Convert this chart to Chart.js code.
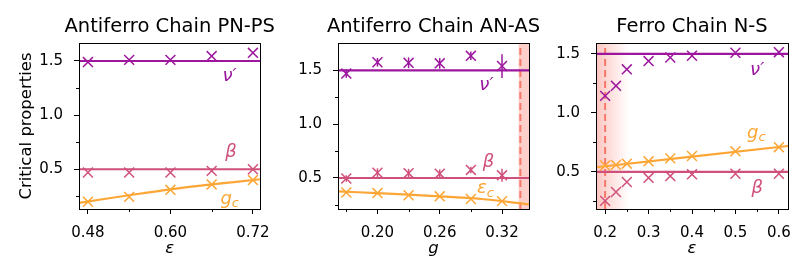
<!DOCTYPE html>
<html>
<head>
<meta charset="utf-8">
<script src="https://cdn.jsdelivr.net/npm/chart.js@4.4.0/dist/chart.umd.min.js"></script>
<style>
    body { margin: 0; background: #fff; width: 811px; height: 280px; position: relative; overflow: hidden; }
    canvas { position: absolute; top: 0; }
</style>
</head>
<body>
<canvas id="panelPN" style="left:0px" width="280" height="280"></canvas>
<canvas id="panelAN" style="left:280px" width="260" height="280"></canvas>
<canvas id="panelNS" style="left:540px" width="271" height="280"></canvas>
<script>
// theory values (horizontal reference lines)
const nuTheory = 1.5;
const betaTheory = 0.5;
const yTicks = [0.5, 1.0, 1.5];
const yMinorTicks = [0.25, 0.75, 1.25];

// Antiferro Chain PN-PS
const pnX = [0.48, 0.54, 0.60, 0.66, 0.72];
const pnNu = [1.49, 1.51, 1.51, 1.545, 1.575];
const pnBeta = [0.47, 0.47, 0.47, 0.485, 0.50];
const pnGc = [0.20, 0.245, 0.31, 0.36, 0.40];
const pnFitX = [0.467, 0.54, 0.60, 0.66, 0.731];
const pnFitGc = [0.19, 0.26, 0.315, 0.36, 0.408];
const pnXTicks = [0.48, 0.60, 0.72];
const pnXMinor = [0.54, 0.66];

// Antiferro Chain AN-AS
const anX = [0.17, 0.20, 0.23, 0.26, 0.29, 0.32];
const anNu = [1.47, 1.575, 1.57, 1.565, 1.635, 1.54];
const anNuErr = [0.04, 0.04, 0.05, 0.05, 0.04, 0.11];
const anBeta = [0.495, 0.55, 0.545, 0.54, 0.575, 0.525];
const anBetaErr = [0.03, 0.04, 0.04, 0.04, 0.03, 0.06];
const anEc = [0.365, 0.36, 0.34, 0.33, 0.305, 0.285];
const anFitX = [0.162, 0.20, 0.26, 0.30, 0.346];
const anFitEc = [0.375, 0.36, 0.33, 0.305, 0.255];
const anCritical = 0.3377;
const anBand = [0.336, 0.346];
const anXTicks = [0.20, 0.26, 0.32];
const anXMinor = [0.17, 0.23, 0.29];

// Ferro Chain N-S
const nsX = [0.2, 0.225, 0.25, 0.3, 0.35, 0.4, 0.5, 0.6];
const nsNu = [1.145, 1.23, 1.37, 1.44, 1.47, 1.485, 1.51, 1.515];
const nsGc = [0.555, 0.56, 0.57, 0.59, 0.615, 0.635, 0.675, 0.71];
const nsBeta = [0.255, 0.33, 0.415, 0.45, 0.465, 0.48, 0.485, 0.485];
const nsFitX = [0.179, 0.621];
const nsFitGc = [0.54, 0.72];
const nsCritical = 0.2;
const nsBand = [0.179, 0.255];
const nsXTicks = [0.2, 0.3, 0.4, 0.5, 0.6];
const nsXMinor = [0.25, 0.35, 0.45, 0.55];

const FONT = "'DejaVu Sans', sans-serif";
const PURPLE = '#9c179e';
const PINK = '#d0507c';
const ORANGE = '#fca636';
const RED = '#f7786b';
const SHADE = 'rgba(248, 110, 95, 0.33)';

function pts(xs, ys) {
    return xs.map((x, i) => ({ x: x, y: ys[i] }));
}

function markers(xs, ys, color) {
    return {
        data: pts(xs, ys),
        showLine: false,
        pointStyle: 'crossRot',
        pointRadius: 7,
        pointBorderWidth: 1.5,
        borderColor: color,
        backgroundColor: color,
    };
}

function fitLine(xs, ys, color) {
    return {
        data: pts(xs, ys),
        showLine: true,
        pointRadius: 0,
        borderWidth: 2.2,
        borderColor: color,
        tension: 0.3,
    };
}

function drawLabel(ctx, label, x, y) {
    const px = x.getPixelForValue(label.x);
    const py = y.getPixelForValue(label.y);
    ctx.fillStyle = label.color;
    ctx.textBaseline = 'middle';
    ctx.font = 'italic 18px ' + FONT;
    const w = ctx.measureText(label.text).width;
    const subW = label.sub ? ctx.measureText(label.sub).width * 0.7 : 0;
    const left = px - (w + subW) / 2;
    ctx.textAlign = 'left';
    ctx.fillText(label.text, left, py);
    if (label.sub) {
        ctx.font = 'italic 13px ' + FONT;
        ctx.fillText(label.sub, left + w, py + 5);
    }
}

function makePanel(canvasId, cfg) {
    const decor = {
        id: 'decor',
        beforeDatasetsDraw(chart) {
            const { ctx, chartArea: a, scales: { x } } = chart;
            if (!cfg.band) {
                return;
            }
            ctx.save();
            const x0 = x.getPixelForValue(cfg.band[0]);
            const x1 = x.getPixelForValue(cfg.band[1]);
            if (cfg.fade) {
                const g = ctx.createLinearGradient(x0, 0, x1, 0);
                g.addColorStop(0, 'rgba(248, 110, 95, 0.4)');
                g.addColorStop(0.35, 'rgba(248, 110, 95, 0.25)');
                g.addColorStop(1, 'rgba(248, 110, 95, 0)');
                ctx.fillStyle = g;
            } else {
                ctx.fillStyle = SHADE;
            }
            ctx.fillRect(x0, a.top, x1 - x0, a.height);
            ctx.restore();
        },
        afterDatasetsDraw(chart) {
            const { ctx, scales: { x, y } } = chart;
            ctx.save();
            (cfg.errors || []).forEach((e) => {
                ctx.strokeStyle = e.color;
                ctx.lineWidth = 1.5;
                e.xs.forEach((v, i) => {
                    const px = x.getPixelForValue(v);
                    ctx.beginPath();
                    ctx.moveTo(px, y.getPixelForValue(e.ys[i] - e.err[i]));
                    ctx.lineTo(px, y.getPixelForValue(e.ys[i] + e.err[i]));
                    ctx.stroke();
                });
            });
            ctx.restore();
        },
        afterDraw(chart) {
            const { ctx, chartArea: a, scales: { x, y } } = chart;
            ctx.save();
            // frame
            ctx.strokeStyle = '#000';
            ctx.lineWidth = 1;
            ctx.strokeRect(Math.round(a.left) + 0.5, Math.round(a.top) + 0.5, Math.round(a.width), Math.round(a.height));

            // minor ticks
            ctx.beginPath();
            cfg.xMinor.forEach((v) => {
                const px = Math.round(x.getPixelForValue(v)) + 0.5;
                ctx.moveTo(px, a.bottom);
                ctx.lineTo(px, a.bottom + 3);
            });
            yMinorTicks.forEach((v) => {
                const py = Math.round(y.getPixelForValue(v)) + 0.5;
                ctx.moveTo(a.left, py);
                ctx.lineTo(a.left - 3, py);
            });
            ctx.stroke();

            // title
            ctx.fillStyle = '#000';
            ctx.font = '19.5px ' + FONT;
            ctx.textAlign = 'center';
            ctx.textBaseline = 'middle';
            ctx.fillText(cfg.title, (a.left + a.right) / 2, 27);

            cfg.labels.forEach((label) => drawLabel(ctx, label, x, y));
            ctx.restore();
        },
    };

    new Chart(document.getElementById(canvasId), {
        type: 'scatter',
        data: { datasets: cfg.datasets },
        options: {
            responsive: false,
            animation: false,
            layout: {
                padding: { left: 0, top: 43, right: cfg.padRight, bottom: 20 },
            },
            plugins: {
                legend: { display: false },
                tooltip: { enabled: false },
            },
            scales: {
                x: {
                    type: 'linear',
                    min: cfg.xMin,
                    max: cfg.xMax,
                    afterBuildTicks: (s) => { s.ticks = cfg.xTicks.map((v) => ({ value: v })); },
                    afterFit: (s) => { s.height = 51; },
                    ticks: {
                        callback: (v) => Number(v).toFixed(cfg.xDec),
                        color: '#000',
                        font: { family: FONT, size: 15 },
                        padding: 10,
                        maxRotation: 0,
                        autoSkip: false,
                    },
                    grid: { drawOnChartArea: false, tickLength: 5, tickColor: '#000' },
                    border: { display: false },
                    title: {
                        display: true,
                        text: cfg.xTitle,
                        color: '#000',
                        font: { family: FONT, size: 16.5, style: 'italic' },
                        padding: { top: 0, bottom: 1 },
                    },
                },
                y: {
                    min: cfg.yMin,
                    max: cfg.yMax,
                    afterBuildTicks: (s) => { s.ticks = yTicks.map((v) => ({ value: v })); },
                    afterFit: (s) => { s.width = cfg.yWidth; },
                    ticks: {
                        callback: (v) => Number(v).toFixed(1),
                        color: '#000',
                        font: { family: FONT, size: 15 },
                        padding: 11,
                    },
                    grid: { drawOnChartArea: false, tickLength: 5, tickColor: '#000' },
                    border: { display: false },
                    title: {
                        display: !!cfg.yTitle,
                        text: cfg.yTitle,
                        color: '#000',
                        font: { family: FONT, size: 16.5 },
                        padding: { top: 17, bottom: 0 },
                    },
                },
            },
        },
        plugins: [decor],
    });
}

document.addEventListener('DOMContentLoaded', () => {
    Chart.defaults.font.family = FONT;

    makePanel('panelPN', {
        title: 'Antiferro Chain PN-PS',
        xTitle: 'ε',
        yTitle: 'Critical properties',
        xMin: 0.467, xMax: 0.731, xTicks: pnXTicks, xMinor: pnXMinor, xDec: 2,
        yMin: 0.133, yMax: 1.666,
        yWidth: 79, padRight: 9,
        datasets: [
            fitLine([0.467, 0.731], [nuTheory, nuTheory], PURPLE),
            fitLine([0.467, 0.731], [betaTheory, betaTheory], PINK),
            fitLine(pnFitX, pnFitGc, ORANGE),
            markers(pnX, pnNu, PURPLE),
            markers(pnX, pnBeta, PINK),
            markers(pnX, pnGc, ORANGE),
        ],
        labels: [
            { text: 'ν′', x: 0.686, y: 1.36, color: PURPLE },
            { text: 'β', x: 0.688, y: 0.655, color: PINK },
            { text: 'g', sub: 'c', x: 0.686, y: 0.225, color: ORANGE },
        ],
    });

    makePanel('panelAN', {
        title: 'Antiferro Chain AN-AS',
        xTitle: 'g',
        xMin: 0.162, xMax: 0.346, xTicks: anXTicks, xMinor: anXMinor, xDec: 2,
        yMin: 0.212, yMax: 1.754,
        yWidth: 58, padRight: 11,
        band: anBand,
        datasets: [
            fitLine([0.162, 0.346], [nuTheory, nuTheory], PURPLE),
            fitLine([0.162, 0.346], [betaTheory, betaTheory], PINK),
            fitLine(anFitX, anFitEc, ORANGE),
            markers(anX, anNu, PURPLE),
            markers(anX, anBeta, PINK),
            markers(anX, anEc, ORANGE),
            {
                data: pts([anCritical, anCritical], [0.212, 1.754]),
                showLine: true,
                pointRadius: 0,
                borderWidth: 2,
                borderColor: RED,
                borderDash: [7, 4],
            },
        ],
        errors: [
            { xs: anX, ys: anNu, err: anNuErr, color: PURPLE },
            { xs: anX, ys: anBeta, err: anBetaErr, color: PINK },
        ],
        labels: [
            { text: 'ν′', x: 0.305, y: 1.365, color: PURPLE },
            { text: 'β', x: 0.307, y: 0.65, color: PINK },
            { text: 'ε', sub: 'c', x: 0.304, y: 0.4, color: ORANGE },
        ],
    });

    makePanel('panelNS', {
        title: 'Ferro Chain N-S',
        xTitle: 'ε',
        xMin: 0.179, xMax: 0.621, xTicks: nsXTicks, xMinor: nsXMinor, xDec: 1,
        yMin: 0.186, yMax: 1.593,
        yWidth: 56, padRight: 23,
        band: nsBand,
        fade: true,
        datasets: [
            fitLine([0.179, 0.621], [nuTheory, nuTheory], PURPLE),
            fitLine([0.179, 0.621], [betaTheory, betaTheory], PINK),
            fitLine(nsFitX, nsFitGc, ORANGE),
            markers(nsX, nsNu, PURPLE),
            markers(nsX, nsBeta, PINK),
            markers(nsX, nsGc, ORANGE),
            {
                data: pts([nsCritical, nsCritical], [0.186, 1.593]),
                showLine: true,
                pointRadius: 0,
                borderWidth: 2,
                borderColor: RED,
                borderDash: [7, 4],
            },
        ],
        labels: [
            { text: 'ν′', x: 0.55, y: 1.365, color: PURPLE },
            { text: 'g', sub: 'c', x: 0.548, y: 0.83, color: ORANGE },
            { text: 'β', x: 0.55, y: 0.36, color: PINK },
        ],
    });
});
</script>
</body>
</html>
